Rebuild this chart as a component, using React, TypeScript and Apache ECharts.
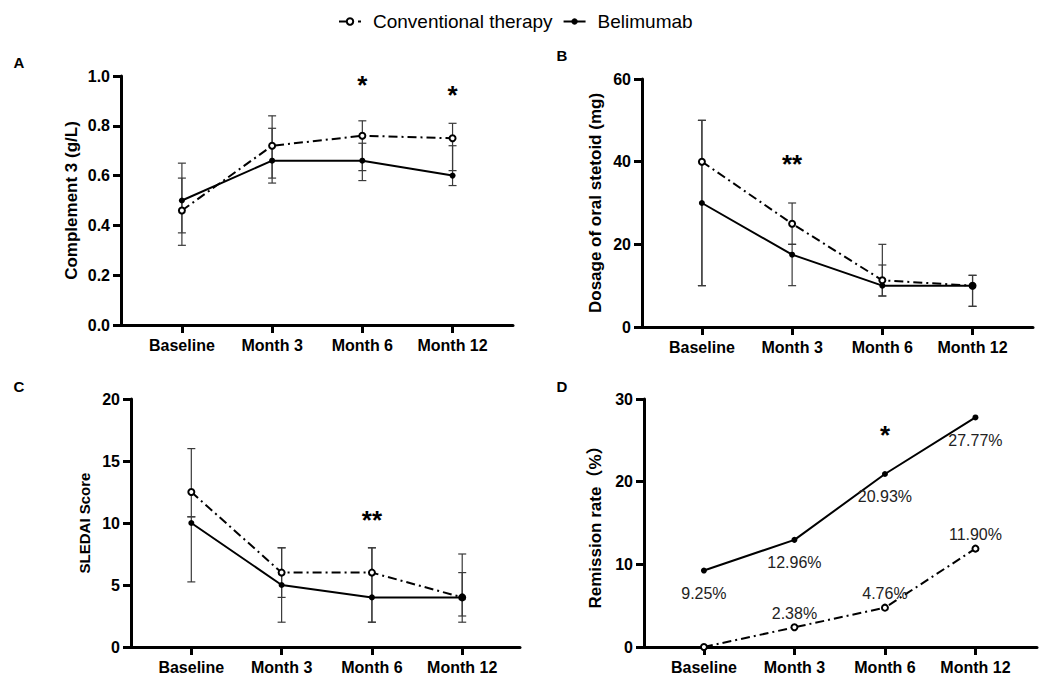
import React, { useEffect, useRef } from "react";
import * as echarts from "echarts";

// ---------- data ----------
const categories = ["Baseline", "Month 3", "Month 6", "Month 12"];
const seriesNames = ["Conventional therapy", "Belimumab"];

// A: Complement 3 (g/L)
const c3Conv = [0.46, 0.72, 0.76, 0.75];
const c3Beli = [0.5, 0.66, 0.66, 0.6];
const c3ConvLow = [0.32, 0.59, 0.62, 0.62];
const c3ConvHigh = [0.59, 0.84, 0.82, 0.81];
const c3BeliLow = [0.37, 0.57, 0.58, 0.56];
const c3BeliHigh = [0.65, 0.79, 0.73, 0.72];

// B: Dosage of oral steroid (mg)
const steroidConv = [40, 25, 11.3, 10];
const steroidBeli = [30, 17.5, 10, 10];
const steroidConvLow = [10, 20, 7.5, 5];
const steroidConvHigh = [50, 30, 15, 12.5];
const steroidBeliLow = [10, 10, 7.5, 5];
const steroidBeliHigh = [50, 20, 20, 12.5];

// C: SLEDAI score
const sledaiConv = [12.5, 6, 6, 4];
const sledaiBeli = [10, 5, 4, 4];
const sledaiConvLow = [10.5, 4, 2, 2.5];
const sledaiConvHigh = [16, 8, 8, 6];
const sledaiBeliLow = [5.25, 2, 2, 2];
const sledaiBeliHigh = [10.5, 8, 8, 7.5];

// D: Remission rate (%)
const remissionConv = [0, 2.38, 4.76, 11.9];
const remissionBeli = [9.25, 12.96, 20.93, 27.77];

// significance marks: [category index, y value, text]
const sigA: [number, number, string][] = [[2, 0.962, "*"], [3, 0.922, "*"]];
const sigB: [number, number, string][] = [[1, 39.5, "**"]];
const sigC: [number, number, string][] = [[2, 10.25, "**"]];
const sigD: [number, number, string][] = [[2, 25.6, "*"]];

const yTitles = ["Complement 3 (g/L)", "Dosage of oral stetoid (mg)", "SLEDAI Score", "Remission rate（%）"];
const panelLetters = ["A", "B", "C", "D"];

// ---------- styling ----------
const FONT = '"Liberation Sans", Arial, "Noto Sans CJK SC", sans-serif';
const DASHDOT = [9, 4, 2, 4];

const grids = [
  { left: 121, top: 76, width: 392, height: 249 },
  { left: 642, top: 79, width: 391, height: 248 },
  { left: 131, top: 399, width: 389, height: 248 },
  { left: 644, top: 399, width: 393, height: 248 },
];
const xRanges = [
  [-0.675, 3.67],
  [-0.664, 3.67],
  [-0.668, 3.64],
  [-0.662, 3.68],
];
const yRanges = [
  { min: 0, max: 1, interval: 0.2, fmt: (v: number) => v.toFixed(1) },
  { min: 0, max: 60, interval: 20, fmt: (v: number) => String(v) },
  { min: 0, max: 20, interval: 5, fmt: (v: number) => String(v) },
  { min: 0, max: 30, interval: 10, fmt: (v: number) => String(v) },
];
const nameGaps = [41, 38, 39, 40];
const nameSizes = [17, 17, 15, 17];
const letterPos = [
  [19, 62],
  [562, 55],
  [19, 386],
  [562, 386],
];

const pairs = (arr: number[]) => arr.map((v, i) => [i, v]);

function errorSeries(idx: number, low: number[], high: number[]) {
  return {
    type: "custom",
    xAxisIndex: idx,
    yAxisIndex: idx,
    silent: true,
    z: 1,
    data: low.map((l, i) => [i, l, high[i]]),
    encode: { x: 0, y: [1, 2] },
    renderItem: (_p: any, api: any) => {
      const x = api.value(0);
      const a = api.coord([x, api.value(1)]);
      const b = api.coord([x, api.value(2)]);
      const w = 4;
      const st = { stroke: "#3a3a3a", lineWidth: 1.2 };
      return {
        type: "group",
        children: [
          { type: "line", shape: { x1: a[0], y1: a[1], x2: b[0], y2: b[1] }, style: st },
          { type: "line", shape: { x1: a[0] - w, y1: a[1], x2: a[0] + w, y2: a[1] }, style: st },
          { type: "line", shape: { x1: b[0] - w, y1: b[1], x2: b[0] + w, y2: b[1] }, style: st },
        ],
      };
    },
  };
}

function lineSeries(idx: number, conv: boolean, values: number[], extra: any = {}) {
  return {
    name: conv ? seriesNames[0] : seriesNames[1],
    type: "line",
    xAxisIndex: idx,
    yAxisIndex: idx,
    data: pairs(values),
    symbol: conv ? "emptyCircle" : "circle",
    symbolSize: 6,
    showAllSymbol: true,
    z: conv ? 3 : 4,
    lineStyle: { color: "#000", width: 2, type: conv ? DASHDOT : "solid" },
    itemStyle: conv ? { color: "#000", borderWidth: 2 } : { color: "#000" },
    emphasis: { disabled: true },
    ...extra,
  };
}

function sigSeries(idx: number, marks: [number, number, string][]) {
  return {
    type: "scatter",
    xAxisIndex: idx,
    yAxisIndex: idx,
    silent: true,
    symbolSize: 0,
    itemStyle: { opacity: 1, color: "#000" },
    data: marks.map((m) => ({ value: [m[0], m[1]], name: m[2] })),
    label: {
      show: true,
      position: "inside",
      formatter: "{b}",
      fontSize: 26,
      fontWeight: "bold",
      color: "#000",
      opacity: 1,
      fontFamily: FONT,
    },
  };
}

export default function App() {
  const ref = useRef<HTMLDivElement>(null);
  useEffect(() => {
    if (!ref.current) return;
    const chart = echarts.init(ref.current, null, { renderer: "svg" });

    const xAxis = grids.map((_, i) => ({
      type: "value",
      gridIndex: i,
      min: xRanges[i][0],
      max: xRanges[i][1],
      splitLine: { show: false },
      axisLine: { show: true, onZero: false, lineStyle: { color: "#000", width: 3 } },
      axisTick: { show: true, length: 8, lineStyle: { color: "#000", width: 3 }, customValues: [0, 1, 2, 3] },
      axisLabel: {
        customValues: [0, 1, 2, 3],
        formatter: (v: number) => categories[Math.round(v)] ?? "",
        color: "#000",
        fontSize: 16,
        fontWeight: "bold",
        fontFamily: FONT,
        margin: 12,
      },
    }));

    const yAxis = grids.map((_, i) => ({
      type: "value",
      gridIndex: i,
      min: yRanges[i].min,
      max: yRanges[i].max,
      interval: yRanges[i].interval,
      name: yTitles[i],
      nameLocation: "middle",
      nameGap: nameGaps[i],
      nameTextStyle: { color: "#000", fontSize: nameSizes[i], fontWeight: "bold", fontFamily: FONT },
      splitLine: { show: false },
      axisLine: { show: true, onZero: false, lineStyle: { color: "#000", width: 3 } },
      axisTick: { show: true, length: 8, lineStyle: { color: "#000", width: 3 } },
      axisLabel: {
        formatter: yRanges[i].fmt,
        color: "#000",
        fontSize: 16,
        fontWeight: "bold",
        fontFamily: FONT,
        margin: 11,
      },
    }));

    const labelBase = { show: true, color: "#222", fontSize: 16, fontFamily: FONT };

    const series: any[] = [
      // A
      errorSeries(0, c3ConvLow, c3ConvHigh),
      errorSeries(0, c3BeliLow, c3BeliHigh),
      lineSeries(0, true, c3Conv),
      lineSeries(0, false, c3Beli),
      sigSeries(0, sigA),
      // B
      errorSeries(1, steroidConvLow, steroidConvHigh),
      errorSeries(1, steroidBeliLow, steroidBeliHigh),
      lineSeries(1, true, steroidConv),
      lineSeries(1, false, steroidBeli),
      sigSeries(1, sigB),
      // C
      errorSeries(2, sledaiConvLow, sledaiConvHigh),
      errorSeries(2, sledaiBeliLow, sledaiBeliHigh),
      lineSeries(2, true, sledaiConv),
      lineSeries(2, false, sledaiBeli),
      sigSeries(2, sigC),
      // D
      lineSeries(3, true, remissionConv, {
        label: {
          ...labelBase,
          position: "top",
          distance: 2,
          formatter: (p: any) => (p.value[1] > 0 ? p.value[1].toFixed(2) + "%" : ""),
        },
      }),
      lineSeries(3, false, remissionBeli, {
        label: {
          ...labelBase,
          position: "bottom",
          distance: 12,
          formatter: (p: any) => p.value[1].toFixed(2) + "%",
        },
      }),
      sigSeries(3, sigD),
    ];

    chart.setOption({
      animation: false,
      backgroundColor: "#fff",
      legend: {
        top: 7,
        left: 333,
        data: seriesNames,
        itemWidth: 22,
        itemHeight: 8,
        itemGap: 10,
        textStyle: { color: "#000", fontSize: 19, fontFamily: FONT, padding: [0, 0, 0, 7] },
        selectedMode: false,
      },
      grid: grids.map((g) => ({ ...g })),
      xAxis,
      yAxis,
      series,
      graphic: panelLetters.map((t, i) => ({
        type: "text",
        x: letterPos[i][0],
        y: letterPos[i][1],
        style: {
          text: t,
          fontSize: 15,
          fontWeight: "bold",
          fontFamily: FONT,
          fill: "#000",
          align: "center",
          verticalAlign: "middle",
        },
      })),
    });

    return () => chart.dispose();
  }, []);

  return (
    <div
      ref={ref}
      style={{ position: "fixed", left: 0, top: 0, width: 1042, height: 679, background: "#fff" }}
    />
  );
}
